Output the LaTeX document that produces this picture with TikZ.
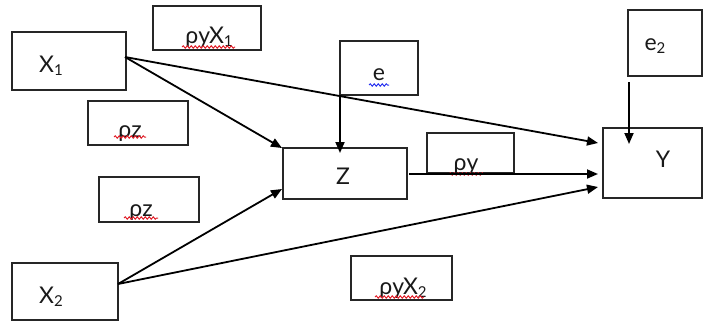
\documentclass[tikz,border=0pt]{standalone}
\usepackage{fontspec}
\setmainfont{Lato}
\usetikzlibrary{arrows.meta,decorations.pathmorphing}
\newcommand{\lowsub}[1]{\raisebox{-0.16em}{\fontsize{15pt}{15pt}\selectfont #1}}
\definecolor{spellred}{RGB}{225,30,40}
\definecolor{spellblue}{RGB}{40,50,240}
\tikzset{
  box/.style={draw=black!85, line width=1.4pt, inner sep=0pt},
  lbl/.style={anchor=base, inner sep=0pt, font=\fontsize{23pt}{23pt}\selectfont, text=black!90},
  link/.style={draw=black, line width=1.8pt, -{Triangle[length=11pt,width=9pt]}},
  squiggle/.style={line width=1pt, decorate, decoration={snake, amplitude=1.2pt, segment length=4pt}},
}
\begin{document}
\begin{tikzpicture}[x=1pt,y=-1pt]
\useasboundingbox (0,0) rectangle (703,322);

% variable boxes
\node[box, minimum width=114pt, minimum height=58pt] (x1) at (69,61) {};
\node[box, minimum width=106pt, minimum height=57pt] (x2) at (65,291.5) {};
\node[box, minimum width=124pt, minimum height=51pt] (z) at (345,173.5) {};
\node[box, minimum width=99pt, minimum height=70pt] (y) at (652.5,163) {};
\node[box, minimum width=78pt, minimum height=54pt] (e) at (379,68) {};
\node[box, minimum width=74pt, minimum height=66pt] (e2) at (665,43) {};

% coefficient boxes
\node[box, minimum width=108pt, minimum height=44pt] (ryx1) at (207,28) {};
\node[box, minimum width=100pt, minimum height=44pt] (rz1) at (138,123) {};
\node[box, minimum width=100pt, minimum height=45pt] (rz2) at (149,199.5) {};
\node[box, minimum width=87pt, minimum height=40pt] (ry) at (470.5,153) {};
\node[box, minimum width=101pt, minimum height=44pt] (ryx2) at (401.5,278) {};

% labels
\node[lbl] (x1t) at (51,72) {X\lowsub{1}};
\node[lbl] (x2t) at (51,303) {X\lowsub{2}};
\node[lbl] (zt) at (343,184) {Z};
\node[lbl] (yt) at (663,167) {Y};
\node[lbl] (et) at (379,80) {e};
\node[lbl] (e2t) at (655,50) {e\lowsub{2}};
\node[lbl] (ryx1t) at (209,43) {ρyX\lowsub{1}};
\node[lbl] (rz1t) at (130,137) {ρz};
\node[lbl] (rz2t) at (141,216) {ρz};
\node[lbl] (ryt) at (466,170) {ρy};
\node[lbl] (ryx2t) at (403,294) {ρyX\lowsub{2}};

% spelling marks under the labels
\draw[squiggle, spellred] (182,47) -- (235,47);
\draw[squiggle, spellred] (114,137) -- (146,137);
\draw[squiggle, spellred] (124,218) -- (158,218);
\draw[squiggle, spellred] (449,174) -- (484,174);
\draw[squiggle, spellred] (375,297) -- (424,297);
\draw[squiggle, spellblue] (369,85) -- (389,85);

% ports on the boxes
\coordinate (x1out) at (125,57);
\coordinate (x2out) at (118,284);
\coordinate (zinTL) at (282,148);
\coordinate (zinBL) at (282,189);
\coordinate (zinT) at (340,153);
\coordinate (eout) at (340,95);
\coordinate (zout) at (409,174);
\coordinate (yin1) at (598,143);
\coordinate (yin2) at (598,174);
\coordinate (yin3) at (598,187);
\coordinate (e2out) at (629,82);
\coordinate (yinT) at (629,144);

% paths
\draw[link] (x1out) -- (zinTL);
\draw[link] (x1out) -- (yin1);
\draw[link] (eout) -- (zinT);
\draw[link] (e2out) -- (yinT);
\draw[link] (zout) -- (yin2);
\draw[link] (x2out) -- (zinBL);
\draw[link] (x2out) -- (yin3);
\end{tikzpicture}
\end{document}
